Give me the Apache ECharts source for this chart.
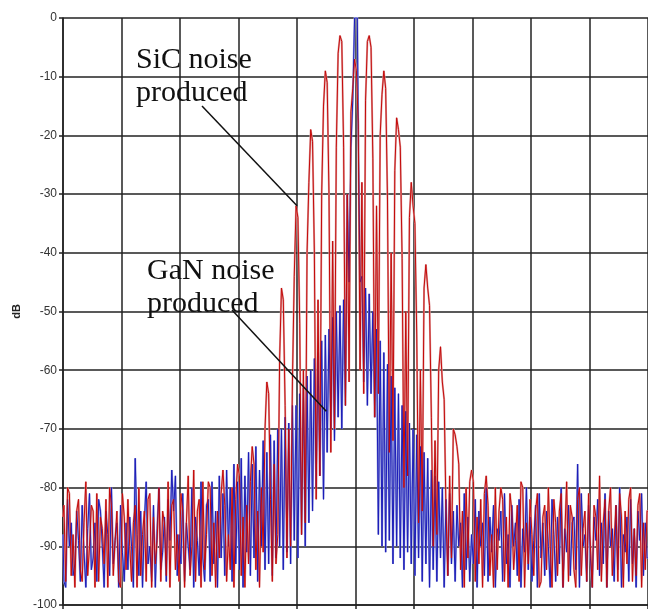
<!DOCTYPE html>
<html>
<head>
<meta charset="utf-8">
<script src="https://cdn.jsdelivr.net/npm/echarts@6/dist/echarts.min.js"></script>
<style>
  html, body { margin: 0; background: #fff; }
  #chart { width: 648px; height: 611px; }
</style>
</head>
<body>
<div id="chart"></div>
<script>
// spectrum bins: x runs 0..10 grid divisions, one value every binWidth
const binWidth = 0.03125;
const yTicks = [0, -10, -20, -30, -40, -50, -60, -70, -80, -90, -100];

// SiC trace (dB), 321 bins, harmonics every 8 bins around bin 160
const sicDb = [
  -85, -83, -96, -80, -81, -95, -88, -97, -84, -82,
  -94, -96, -86, -79, -95, -90, -83, -84, -97, -81,
  -96, -85, -87, -93, -82, -97, -80, -83, -95, -89,
  -84, -96, -97, -81, -85, -94, -82, -90, -96, -86,
  -83, -97, -80, -95, -88, -84, -96, -82, -81, -97,
  -85, -93, -89, -80, -96, -84, -86, -95, -79, -97,
  -83, -82, -94, -88, -96, -81, -84, -97, -86, -78,
  -95, -90, -77, -96, -84, -82, -97, -79, -94, -88,
  -79, -80, -95, -86, -97, -84, -92, -81,
  -77, -83, -96, -88, -94, -80, -97, -82,
  -76, -78, -95, -85, -97, -83, -93, -79,
  -73, -76, -94, -84, -97, -80, -91, -70,
  -62, -64, -82, -96, -76, -93, -88, -58,
  -46, -48, -66, -92, -70, -90, -62, -44,
  -32, -34, -52, -88, -60, -86, -40, -28,
  -19, -21, -40, -82, -48, -78, -30, -15,
  -9, -11, -30, -74, -38, -70, -22, -6,
  -3, -4, -22, -66, -30, -62, -16, -12,
  -7, -9, -18, -60, -28, -64, -14, -4,
  -3, -5, -24, -68, -32, -64, -20, -13,
  -9, -12, -31, -74, -40, -72, -26, -17,
  -19, -22, -41, -80, -50, -78, -34, -28,
  -32, -35, -54, -86, -60, -84, -46, -42,
  -46, -49, -68, -90, -72, -88, -60, -56,
  -62, -65, -84, -95, -78, -92, -70, -71,
  -73, -76, -94, -84, -97, -80, -92, -79,
  -77, -79, -96, -85, -93, -82, -97, -81,
  -78, -83, -95, -88, -97, -80, -94, -84,
  -80, -82, -96, -85, -97, -81, -84, -94, -89, -83,
  -96, -79, -80, -97, -86, -93, -82, -88, -95, -84,
  -81, -97, -96, -85, -83, -94, -80, -90, -97, -82,
  -86, -95, -84, -81, -97, -88, -79, -96, -83, -85,
  -94, -97, -82, -80, -95, -87, -84, -96, -81, -90,
  -97, -83, -85, -94, -78, -96, -86, -82, -97, -84,
  -80, -95, -89, -83, -96, -81, -85, -97, -84, -93,
  -82, -80, -96, -87, -95, -83, -81, -97, -86, -94,
  -84
];

// GaN trace (dB), 321 bins
const ganDb = [
  -88, -96, -97, -82, -90, -86, -95, -93, -84, -89,
  -96, -83, -91, -97, -87, -81, -94, -92, -86, -96,
  -82, -84, -90, -97, -84, -88, -95, -80, -93, -89,
  -86, -97, -83, -91, -96, -86, -94, -85, -90, -97,
  -75, -88, -95, -84, -97, -86, -79, -93, -90, -96,
  -83, -97, -87, -80, -94, -91, -85, -96, -82, -89,
  -77, -84, -78, -95, -88, -93, -81, -96, -86, -90,
  -94, -80, -97, -85, -89, -95, -79, -92, -96, -83,
  -82, -96, -79, -93, -84, -97, -78, -92,
  -81, -95, -77, -90, -80, -96, -76, -93,
  -79, -94, -75, -97, -78, -91, -74, -95,
  -76, -92, -73, -96, -77, -90, -72, -94,
  -74, -93, -71, -95, -72, -92, -70, -90,
  -70, -94, -68, -91, -69, -93, -66, -89,
  -66, -92, -64, -88, -63, -90, -61, -86,
  -60, -84, -58, -80, -57, -78, -55, -82,
  -54, -74, -53, -70, -51, -72, -50, -68,
  -49, -70, -48, -66, -30, -45, -22, -14,
  0, 0, -19, -45, -44, -62, -46, -66,
  -47, -64, -50, -68, -53, -88, -55, -90,
  -57, -91, -59, -89, -61, -93, -63, -90,
  -64, -92, -66, -94, -67, -91, -69, -93,
  -70, -95, -71, -92, -73, -96, -74, -93,
  -75, -97, -77, -94, -78, -96, -79, -92,
  -80, -97, -82, -95, -81, -93, -84, -96,
  -83, -90, -86, -97, -81, -94, -85, -96,
  -88, -93, -82, -97, -84, -90, -86, -95,
  -80, -96, -85, -91, -83, -97, -87, -89,
  -84, -96, -81, -93, -88, -97, -83, -90, -86, -95,
  -82, -97, -87, -91, -80, -94, -85, -96, -89, -83,
  -97, -81, -92, -86, -95, -84, -90, -97, -82, -88,
  -96, -85, -93, -80, -97, -87, -91, -83, -95, -86,
  -85, -94, -76, -97, -81, -90, -88, -96, -83, -92,
  -97, -85, -89, -82, -95, -86, -93, -81, -97, -84,
  -90, -87, -96, -83, -94, -80, -97, -88, -91, -85,
  -96, -82, -93, -87, -97, -84, -89, -81, -95, -86,
  -92
];

// callouts: text, where the text sits, where the leader starts, and the data point it points to
const sicLabel = 'SiC noise\nproduced';
const ganLabel = 'GaN noise\nproduced';
const sicTextPos = [136, 44];
const ganTextPos = [147, 255];
const sicLeaderFrom = [202, 106];
const ganLeaderFrom = [232, 310];
const sicTarget = [4.0, -32];
const ganTarget = [4.5, -67];

function toPoints(values) {
  return values.map((v, i) => [i * binWidth, v]);
}

// each trace is drawn twice: a wide pale stroke under a thin dark one
function trace(name, values, color, width, z) {
  return {
    name: name,
    type: 'line',
    step: 'middle',
    data: toPoints(values),
    showSymbol: false,
    silent: true,
    lineStyle: { color: color, width: width, join: 'miter', miterLimit: 4 },
    z: z
  };
}

const chart = echarts.init(document.getElementById('chart'), null, { renderer: 'canvas' });

const gridLine = { color: '#222', width: 1.5 };

chart.setOption({
  animation: false,
  backgroundColor: '#fff',
  grid: { left: 63, top: 18, width: 588, height: 587 },
  xAxis: {
    type: 'value',
    min: 0,
    max: 10,
    interval: 1,
    axisLine: { show: true, onZero: false, lineStyle: gridLine },
    axisTick: { show: true, length: 4, lineStyle: gridLine },
    axisLabel: { show: false },
    splitLine: { show: true, lineStyle: gridLine }
  },
  yAxis: {
    type: 'value',
    min: -100,
    max: 0,
    interval: 10,
    name: 'dB',
    nameLocation: 'middle',
    nameGap: 37,
    nameTextStyle: { fontFamily: 'Liberation Sans', fontSize: 11, fontWeight: 'bold', color: '#222' },
    axisLine: { show: true, lineStyle: gridLine },
    axisTick: { show: true, length: 4, lineStyle: gridLine },
    axisLabel: {
      margin: 6,
      fontFamily: 'Liberation Sans',
      fontSize: 12,
      color: '#333',
      formatter: v => yTicks.includes(v) ? String(v) : ''
    },
    splitLine: { show: true, lineStyle: gridLine }
  },
  series: [
    trace('GaN', ganDb, '#9aa2de', 2, 2),
    trace('SiC', sicDb, '#e0a4a4', 2, 3),
    trace('GaN', ganDb, '#1c1cb8', 1, 4),
    trace('SiC', sicDb, '#c40a0a', 1, 5)
  ]
});

const sicTip = chart.convertToPixel({ gridIndex: 0 }, sicTarget);
const ganTip = chart.convertToPixel({ gridIndex: 0 }, ganTarget);
const textStyle = { font: '30px "Liberation Serif"', fill: '#111', lineHeight: 33 };

chart.setOption({
  graphic: [
    { type: 'text', x: sicTextPos[0], y: sicTextPos[1], z: 10, style: Object.assign({ text: sicLabel }, textStyle) },
    { type: 'text', x: ganTextPos[0], y: ganTextPos[1], z: 10, style: Object.assign({ text: ganLabel }, textStyle) },
    { type: 'line', z: 10, shape: { x1: sicLeaderFrom[0], y1: sicLeaderFrom[1], x2: sicTip[0], y2: sicTip[1] }, style: { stroke: '#111', lineWidth: 1.5 } },
    { type: 'line', z: 10, shape: { x1: ganLeaderFrom[0], y1: ganLeaderFrom[1], x2: ganTip[0], y2: ganTip[1] }, style: { stroke: '#111', lineWidth: 1.5 } }
  ]
});
</script>
</body>
</html>
